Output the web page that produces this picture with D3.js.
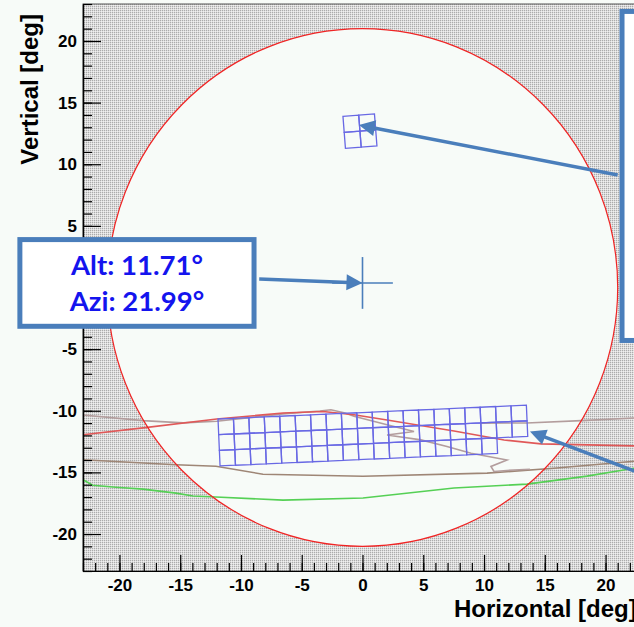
<!DOCTYPE html>
<html>
<head>
<meta charset="utf-8">
<script src="https://cdn.jsdelivr.net/npm/d3@7"></script>
<style>
  html, body { margin: 0; padding: 0; background: #f7fbf8; }
  svg { display: block; }
</style>
</head>
<body>
<svg id="chart" width="634" height="627"></svg>
<script>
// ---- data (degrees) ----
const xTicks = [-20, -15, -10, -5, 0, 5, 10, 15, 20];
const yTicks = [-20, -15, -10, -5, 0, 5, 10, 15, 20];
const xDomain = [-23, 23];
const yDomain = [-23, 23];
const fovRadius = 21;

// horizon / terrain profiles
const redProfile = [[-23, -11.94], [-18.06, -11.39], [-11.99, -10.67], [-6.54, -10.18], [-3.25, -10.06],
  [-0.70, -10.32], [2.02, -10.75], [7.53, -11.64], [11.65, -12.37], [14.69, -12.69], [22.35, -12.85], [23, -12.86]];
const ridgeProfile = [[-23, -10.35], [-18.06, -10.80], [-14.77, -10.98], [-11.99, -10.85], [-6.54, -10.25],
  [-3.5, -10.02], [-2.6, -9.92], [-1.44, -10.18], [-0.70, -10.45], [2.02, -11.14], [4.24, -11.68],
  [2.02, -11.96], [4.81, -12.36], [6.95, -12.90], [8.93, -13.44], [11.89, -13.99], [10.57, -14.52],
  [10.82, -14.93], [12.47, -14.80], [13.78, -14.74]];
const farProfile = [[9.75, -11.0], [13.5, -10.99], [18.0, -10.80], [23, -10.55]];
const lowerProfile = [[-23, -13.97], [-15.35, -14.38], [-12.06, -14.50], [-8.19, -15.15], [0.04, -15.31],
  [10.25, -15.06], [15.76, -14.66], [22.35, -14.09], [23, -14.03]];
const greenProfile = [[-23, -15.6], [-22.2, -16.04], [-20.3, -16.2], [-18.06, -16.36], [-15.35, -16.68],
  [-13.95, -16.92], [-12.06, -17.0], [-6.54, -17.25], [0.04, -17.08], [7.53, -16.27], [13.54, -15.95],
  [18.47, -15.3], [22.35, -14.66], [23, -14.55]];

// camera pixel footprints
const bigGridOrigin = [-11.89, -10.67];     // top-left corner
const bigGridRows = [3, 3, 3, 3, 3, 3, 3, 3, 3, 3, 3, 3, 3, 3, 3, 3, 3, 3, 2, 2];
const bigGridCell = 1.27;
const bigGridTilt = 2.54;
const smallGridCenter = [-0.21, 12.69];
const smallGridRows = [2, 2];
const smallGridCell = 1.3;
const smallGridTilt = 4.5;

// target marker
const target = [0, 0.37];
const targetArms = [2.5, 2.1];

// callouts
const targetLabel = ["Alt: 11.71°", "Azi: 21.99°"];
const leftBox = [-28.4, 4.09, -8.72, -3.35];   // x0, y0, x1, y1
const rightBox = [21.15, 22.6, 26, -4.5];
const arrows = [
  { from: [-8.5, 0.68], to: [0, 0.37] },
  { from: [21.0, 9.13], to: [-0.29, 13.18] },
  { from: [23.2, -15.2], to: [13.78, -11.68] }
];

// ---- layout ----
const svg = d3.select("#chart");
const x = d3.scaleLinear().domain(xDomain).range([83, 642]);
const y = d3.scaleLinear().domain(yDomain).range([571, 4]);
const bg = "#f7fbf8";
const calloutBlue = "#4a7ebb";
const axisFont = "'Liberation Sans', Arial, Helvetica, sans-serif";

// dotted fill for the area outside the field of view
const defs = svg.append("defs");
const pat = defs.append("pattern").attr("id", "hatch").attr("patternUnits", "userSpaceOnUse")
  .attr("width", 2).attr("height", 2);
pat.append("rect").attr("width", 2).attr("height", 2).attr("fill", "#dcdcdc");
pat.append("rect").attr("width", 1).attr("height", 1).attr("fill", "#ababab");
pat.append("rect").attr("x", 1).attr("y", 1).attr("width", 1).attr("height", 1).attr("fill", "#efefef");

svg.append("rect").attr("width", 634).attr("height", 627).attr("fill", bg);

// frame with circular cut-out
const cx = x(0), cy = y(0);
const rx = x(fovRadius) - x(0), ry = y(0) - y(fovRadius);
const fx0 = x(xDomain[0]), fx1 = x(xDomain[1]), fy0 = y(yDomain[1]), fy1 = y(yDomain[0]);
const hatchPath = `M${fx0},${fy0}H${fx1}V${fy1}H${fx0}Z` +
  `M${cx - rx},${cy}A${rx},${ry} 0 1,0 ${cx + rx},${cy}A${rx},${ry} 0 1,0 ${cx - rx},${cy}Z`;
svg.append("path").attr("d", hatchPath).attr("fill", "url(#hatch)").attr("fill-rule", "evenodd");
svg.append("rect").attr("x", fx0).attr("y", fy0).attr("width", fx1 - fx0).attr("height", fy1 - fy0)
  .attr("fill", "none").attr("stroke", "#555").attr("stroke-width", 1);

// profiles
const line = d3.line().x(d => x(d[0])).y(d => y(d[1]));
const profiles = [
  { data: greenProfile, color: "#55d055" },
  { data: lowerProfile, color: "#9e8676" },
  { data: ridgeProfile, color: "#b39d9d" },
  { data: farProfile, color: "#b39d9d" },
  { data: redProfile, color: "#e05858" }
];
profiles.forEach(p => svg.append("path").attr("d", line(p.data)).attr("fill", "none")
  .attr("stroke", p.color).attr("stroke-width", 1.6));

// field-of-view circle
svg.append("ellipse").attr("cx", cx).attr("cy", cy).attr("rx", rx).attr("ry", ry)
  .attr("fill", "none").attr("stroke", "#f02424").attr("stroke-width", 1.2);

// pixel grids
function gridCells(origin, rows, size, tiltDeg) {
  const t = tiltDeg * Math.PI / 180;
  const e1 = [Math.cos(t) * size, Math.sin(t) * size];
  const e2 = [Math.sin(t) * size, -Math.cos(t) * size];
  const pt = (c, r) => [origin[0] + c * e1[0] + r * e2[0], origin[1] + c * e1[1] + r * e2[1]];
  const cells = [];
  rows.forEach((n, c) => {
    for (let r = 0; r < n; r++) cells.push([pt(c, r), pt(c + 1, r), pt(c + 1, r + 1), pt(c, r + 1)]);
  });
  return cells;
}
function centeredOrigin(center, rows, size, tiltDeg) {
  const t = tiltDeg * Math.PI / 180;
  const w = rows.length * size, h = d3.max(rows) * size;
  return [center[0] - (w / 2) * Math.cos(t) - (h / 2) * Math.sin(t),
          center[1] - (w / 2) * Math.sin(t) + (h / 2) * Math.cos(t)];
}
const cells = gridCells(bigGridOrigin, bigGridRows, bigGridCell, bigGridTilt)
  .concat(gridCells(centeredOrigin(smallGridCenter, smallGridRows, smallGridCell, smallGridTilt),
    smallGridRows, smallGridCell, smallGridTilt));
svg.append("g").selectAll("path").data(cells).join("path")
  .attr("d", d => "M" + d.map(p => [x(p[0]), y(p[1])].join(",")).join("L") + "Z")
  .attr("fill", "none").attr("stroke", "#6868e4").attr("stroke-width", 1.3);

// axes (ticks point into the frame)
const minorTicks = d3.range(-23, 24);
const plain = d => String(d);
const gl = svg.append("g").attr("transform", `translate(${fx0},0)`);
gl.call(d3.axisLeft(y).tickValues(minorTicks).tickSizeInner(-9).tickSizeOuter(0).tickFormat(""));
gl.append("g").call(d3.axisLeft(y).tickValues(yTicks).tickSizeInner(-18).tickSizeOuter(0).tickPadding(6)
  .tickFormat(plain));
const gb = svg.append("g").attr("transform", `translate(0,${fy1})`);
gb.call(d3.axisBottom(x).tickValues(minorTicks).tickSizeInner(-8).tickSizeOuter(0).tickFormat(""));
gb.append("g").call(d3.axisBottom(x).tickValues(xTicks).tickSizeInner(-16).tickSizeOuter(0).tickPadding(8)
  .tickFormat(plain));
svg.selectAll(".domain").attr("stroke", "#000").attr("stroke-width", 1.2);
svg.selectAll(".tick line").attr("stroke", "#000").attr("stroke-width", 1.2);
svg.selectAll(".tick text").attr("font-family", axisFont).attr("font-weight", "bold")
  .attr("font-size", 17).attr("fill", "#000");
// the vertical "0" label sits under the callout box
gl.selectAll(".tick text").filter(d => d === 0).remove();

svg.append("text").attr("x", 454).attr("y", 617)
  .attr("font-family", axisFont).attr("font-weight", "bold").attr("font-size", 24)
  .text("Horizontal [deg]");
svg.append("text").attr("transform", "translate(38,14) rotate(-90)").attr("text-anchor", "end")
  .attr("font-family", axisFont).attr("font-weight", "bold").attr("font-size", 24)
  .text("Vertical [deg]");

// target cross
const tx = x(target[0]), ty = y(target[1]);
svg.append("line").attr("x1", x(target[0] - targetArms[0])).attr("x2", x(target[0] + targetArms[0]))
  .attr("y1", ty).attr("y2", ty).attr("stroke", calloutBlue).attr("stroke-width", 1.6);
svg.append("line").attr("x1", tx).attr("x2", tx).attr("y1", y(target[1] + targetArms[1]))
  .attr("y2", y(target[1] - targetArms[1])).attr("stroke", calloutBlue).attr("stroke-width", 1.6);

// callout arrows
arrows.forEach(a => {
  const x1 = x(a.from[0]), y1 = y(a.from[1]), x2 = x(a.to[0]), y2 = y(a.to[1]);
  const L = Math.hypot(x2 - x1, y2 - y1), ux = (x2 - x1) / L, uy = (y2 - y1) / L;
  const head = 16, half = 8;
  const bx = x2 - ux * head, by = y2 - uy * head;
  svg.append("line").attr("x1", x1).attr("y1", y1).attr("x2", bx + ux * 2).attr("y2", by + uy * 2)
    .attr("stroke", calloutBlue).attr("stroke-width", 3.5);
  svg.append("path").attr("d", `M${x2},${y2}L${bx - uy * half},${by + ux * half}L${bx + uy * half},${by - ux * half}Z`)
    .attr("fill", calloutBlue);
});

// callout boxes
function box(b) {
  const x0 = x(b[0]), x1 = x(b[2]), y0 = y(b[1]), y1 = y(b[3]);
  return svg.append("rect").attr("x", x0 + 2.5).attr("y", y0 + 2.5)
    .attr("width", x1 - x0 - 5).attr("height", y1 - y0 - 5)
    .attr("fill", "#fff").attr("stroke", calloutBlue).attr("stroke-width", 5);
}
box(rightBox);
box(leftBox);
const lbCx = (x(leftBox[0]) + x(leftBox[2])) / 2;
const labels = svg.append("g").selectAll("text").data(targetLabel).join("text")
  .attr("x", lbCx).attr("y", (d, i) => 275 + i * 36).attr("text-anchor", "middle")
  .attr("font-family", "Lato, 'Open Sans', sans-serif").attr("font-weight", "bold")
  .attr("font-size", 26).attr("fill", "#1414ee").text(d => d);
// scale the callout text to its box width
const w0 = labels.node().getComputedTextLength();
labels.attr("font-size", 26 * 132 / w0);
</script>
</body>
</html>
